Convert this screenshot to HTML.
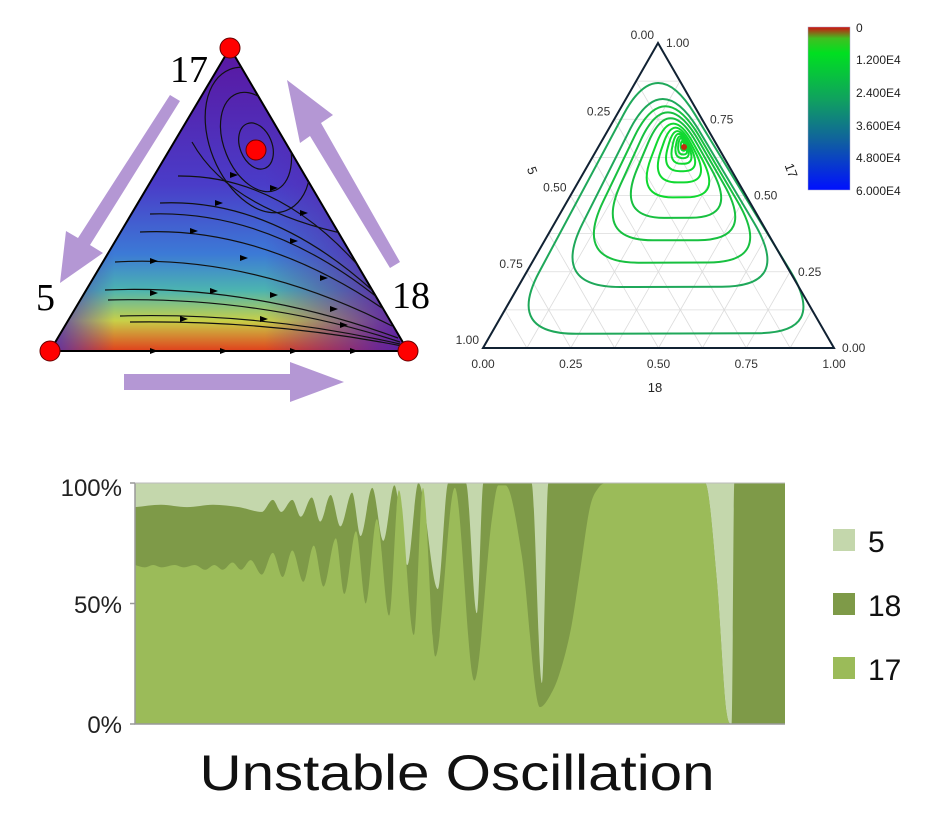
<!DOCTYPE html>
<html><head><meta charset="utf-8">
<style>
html,body{margin:0;padding:0;background:#fff;}
svg{display:block;font-family:"Liberation Sans",sans-serif;}
</style></head>
<body>
<svg id="root" width="952" height="819" viewBox="0 0 952 819" xmlns="http://www.w3.org/2000/svg">
<defs>
  <linearGradient id="triV" x1="0" y1="48" x2="0" y2="351" gradientUnits="userSpaceOnUse">
    <stop offset="0" stop-color="#5a16a0"/>
    <stop offset="0.45" stop-color="#4a3cc8"/>
    <stop offset="0.68" stop-color="#3c7ad6"/>
    <stop offset="0.8" stop-color="#4cb4b0"/>
    <stop offset="0.9" stop-color="#c8d048"/>
    <stop offset="1" stop-color="#e0401c"/>
  </linearGradient>
  <linearGradient id="triH" x1="50" y1="0" x2="408" y2="0" gradientUnits="userSpaceOnUse">
    <stop offset="0" stop-color="#4a30b8" stop-opacity="0.9"/>
    <stop offset="0.18" stop-color="#4a30b8" stop-opacity="0"/>
    <stop offset="0.6" stop-color="#5a20a8" stop-opacity="0"/>
    <stop offset="0.92" stop-color="#5a20a8" stop-opacity="0.85"/>
    <stop offset="1" stop-color="#5a20a8" stop-opacity="1"/>
  </linearGradient>
  <clipPath id="triClip"><polygon points="230,48 50,351 408,351"/></clipPath>
  <linearGradient id="cbar" x1="0" y1="0" x2="0" y2="1">
    <stop offset="0" stop-color="#d01010"/>
    <stop offset="0.07" stop-color="#40c020"/>
    <stop offset="0.16" stop-color="#00e020"/>
    <stop offset="0.45" stop-color="#10a060"/>
    <stop offset="0.7" stop-color="#1060a0"/>
    <stop offset="1" stop-color="#0010ff"/>
  </linearGradient>
</defs>

<!-- LEFT TRIANGLE -->
<g>
  <g clip-path="url(#triClip)">
    <rect x="40" y="40" width="380" height="320" fill="url(#triV)"/>
    <rect x="40" y="40" width="380" height="320" fill="url(#triH)"/>
  </g>
  <polygon points="230,48 50,351 408,351" fill="none" stroke="#000" stroke-width="2"/>
  <g fill="none" stroke="#111" stroke-width="1.2" clip-path="url(#triClip)">
    <path d="M105,290 Q250,284 398,338"/>
    <path d="M108,300 Q260,296 400,342"/>
    <path d="M115,262 Q250,254 392,326"/>
    <path d="M140,232 Q262,226 385,310"/>
    <path d="M150,214 Q268,210 378,298"/>
    <path d="M160,203 Q270,198 372,290"/>
    <path d="M178,176 Q280,175 362,270"/>
    <path d="M192,142 Q230,210 350,235"/>
    <ellipse cx="258" cy="140" rx="48" ry="76" transform="rotate(-22 258 140)"/>
    <ellipse cx="256" cy="142" rx="32" ry="52" transform="rotate(-22 256 142)"/>
    <ellipse cx="256" cy="146" rx="16" ry="24" transform="rotate(-22 256 146)"/>
    <path d="M120,316 Q260,312 400,344"/>
    <path d="M130,322 Q270,320 402,346"/>
  </g>
  <g fill="#000">
    <path d="M150,290 l8,3 l-8,3z"/><path d="M210,288 l8,3 l-8,3z"/><path d="M270,292 l8,3 l-8,3z"/><path d="M330,306 l8,3 l-8,3z"/>
    <path d="M150,258 l8,3 l-8,3z"/><path d="M240,255 l8,3 l-8,3z"/><path d="M320,275 l8,3 l-8,3z"/>
    <path d="M190,228 l8,3 l-8,3z"/><path d="M290,238 l8,3 l-8,3z"/>
    <path d="M215,200 l8,3 l-8,3z"/><path d="M300,210 l8,3 l-8,3z"/>
    <path d="M270,185 l8,3 l-8,3z"/><path d="M230,172 l8,3 l-8,3z"/>
    <path d="M180,316 l8,3 l-8,3z"/><path d="M260,316 l8,3 l-8,3z"/><path d="M340,322 l8,3 l-8,3z"/>
    <path d="M150,348 l8,3 l-8,3z"/><path d="M220,348 l8,3 l-8,3z"/><path d="M290,348 l8,3 l-8,3z"/><path d="M350,348 l8,3 l-8,3z"/>
  </g>
  <circle cx="230" cy="48" r="10" fill="#f00" stroke="#600" stroke-width="1"/>
  <circle cx="50" cy="351" r="10" fill="#f00" stroke="#600" stroke-width="1"/>
  <circle cx="408" cy="351" r="10" fill="#f00" stroke="#600" stroke-width="1"/>
  <circle cx="256" cy="150" r="10" fill="#f00" stroke="#600" stroke-width="1"/>
  <text x="170" y="82" font-family="Liberation Serif" font-size="38">17</text>
  <text x="36" y="310" font-family="Liberation Serif" font-size="38">5</text>
  <text x="392" y="308" font-family="Liberation Serif" font-size="38">18</text>
  <g fill="#b497d4">
    <polygon points="170,95 180,101 90,245 103,253 60,283 66,231 78,238"/>
    <polygon points="124,374 290,374 290,362 344,382 290,402 290,390 124,390"/>
    <polygon points="400,262 390,268 310,136 300,143 287,80 333,115 321,123"/>
  </g>
</g>

<!-- RIGHT TERNARY -->
<g id="tern"></g>
<g>
  <rect x="808" y="27" width="42" height="163" fill="url(#cbar)" stroke="#aac" stroke-width="0.5"/>
  <g font-size="12" fill="#222">
    <text x="856" y="32">0</text>
    <text x="856" y="64">1.200E4</text>
    <text x="856" y="97">2.400E4</text>
    <text x="856" y="130">3.600E4</text>
    <text x="856" y="162">4.800E4</text>
    <text x="856" y="195">6.000E4</text>
  </g>
</g>

<!-- STACKED AREA -->
<g id="area"></g>
<g font-size="24" fill="#222">
  <text x="122" y="496" text-anchor="end">100%</text>
  <text x="122" y="613" text-anchor="end">50%</text>
  <text x="122" y="733" text-anchor="end">0%</text>
</g>
<g>
  <rect x="833" y="529" width="22" height="22" fill="#c4d7ac"/>
  <text x="868" y="552" font-size="30" fill="#111">5</text>
  <rect x="833" y="593" width="22" height="22" fill="#7e9a48"/>
  <text x="868" y="616" font-size="30" fill="#111">18</text>
  <rect x="833" y="657" width="22" height="22" fill="#9bbb59"/>
  <text x="868" y="680" font-size="30" fill="#111">17</text>
</g>
<text x="457" y="790" font-size="50" text-anchor="middle" textLength="515" lengthAdjust="spacingAndGlyphs" fill="#111">Unstable Oscillation</text>
</svg>

<script>
// ---- stacked area data (time 0..100, shares 0..1) ----
const t17 = [0,1.5,2.8,4.1,6.1,7.5,9.2,10.8,12.2,13.5,15,16.3,17.8,19.5,21.2,22.7,24.2,25.9,27.5,29,30.9,32.2,34,35.5,37.2,39.1,40.6,42.9,44.3,46.2,49.2,52.2,54.9,55.9,57,59.5,62.3,63.9,65.2,67.1,68.5,70,71.3,72.6,73.9,74.8,76,87.7,89.5,91,91.8,100];
const share17 = [.66,.65,.66,.65,.66,.65,.66,.64,.66,.64,.67,.64,.68,.62,.71,.61,.72,.59,.74,.57,.77,.54,.80,.50,.85,.45,.97,.37,.98,.28,.98,.18,.85,.99,.99,.70,.07,.12,.20,.40,.64,.90,.98,1,1,1,1,1,.6,.05,0,0];
const tTop = [0,4,8,12,16,19.5,21.2,22.5,24.2,25.5,27.2,28.5,30.1,31.6,33.4,34.7,36.5,38.2,39.9,41.9,43.6,46.6,48.2,50.9,52.6,53.6,61,62.6,63.6,87.7,89.5,91,91.8,92.2,100];
const cum1718 = [.90,.91,.90,.91,.90,.88,.93,.88,.93,.86,.94,.84,.95,.82,.96,.78,.98,.76,.99,.66,1,.56,1,1,.46,1,1,.17,1,1,.6,.05,0,1,1];
const yTicks = [0,0.5,1];

const NS='http://www.w3.org/2000/svg';
const X0=135,X1=785,Y0=724,Y1=483;
function ax(t){return X0+(X1-X0)*t/100;}
function ay(v){return Y0-(Y0-Y1)*v;}
const area=document.getElementById('area');
function mk(tag,attrs){const e=document.createElementNS(NS,tag);for(const k in attrs)e.setAttribute(k,attrs[k]);return e;}

const bg=mk('rect',{x:X0,y:Y1,width:X1-X0,height:Y0-Y1,fill:'#c4d7ac'});


area.appendChild(bg);

function monoPath(xs,ys){
  const n=xs.length,d=[],m=[];
  for(let i=0;i<n-1;i++)d.push((ys[i+1]-ys[i])/(xs[i+1]-xs[i]));
  for(let i=0;i<n;i++){
    if(i===0)m.push(d[0]);else if(i===n-1)m.push(d[n-2]);
    else m.push(d[i-1]*d[i]<=0?0:(d[i-1]+d[i])/2);
  }
  for(let i=0;i<n-1;i++){
    if(d[i]===0){m[i]=0;m[i+1]=0;continue;}
    const a=m[i]/d[i],b=m[i+1]/d[i],s=a*a+b*b;
    if(s>9){const tau=3/Math.sqrt(s);m[i]=tau*a*d[i];m[i+1]=tau*b*d[i];}
  }
  let p='';
  for(let i=0;i<n-1;i++){
    const h=(xs[i+1]-xs[i])/3;
    p+=' C'+(xs[i]+h).toFixed(2)+','+(ys[i]+m[i]*h).toFixed(2)+' '+(xs[i+1]-h).toFixed(2)+','+(ys[i+1]-m[i+1]*h).toFixed(2)+' '+xs[i+1].toFixed(2)+','+ys[i+1].toFixed(2);
  }
  return p;
}
function areaPath(ts,vs){
  const xs=ts.map(ax),ys=vs.map(ay);
  return 'M'+xs[0]+','+ay(0)+' L'+xs[0]+','+ys[0]+monoPath(xs,ys)+' L'+xs[xs.length-1]+','+ay(0)+' Z';
}
const p18=mk('path',{d:areaPath(tTop,cum1718),fill:'#7e9a48'});


area.appendChild(p18);
const p17=mk('path',{d:areaPath(t17,share17),fill:'#9bbb59'});


area.appendChild(p17);

const cover=mk('rect',{x:X0,y:Y1-20,width:X1-X0,height:20,fill:'#fff'});


area.appendChild(cover);
const axl=mk('path',{d:'M'+X0+','+Y1+' V'+Y0+' H'+X1,fill:'none',stroke:'#999','stroke-width':1.5});


area.appendChild(axl);
yTicks.forEach(v=>{const tk=mk('line',{x1:X0-5,x2:X0,y1:ay(v),y2:ay(v),stroke:'#999','stroke-width':1.5});


area.appendChild(tk);});
const topl=mk('line',{x1:X0,x2:X1,y1:Y1,y2:Y1,stroke:'#bbb','stroke-width':1});


area.appendChild(topl);

// ---- ternary plot ----
const loopScale = [1,0.75,0.62,0.5,0.38,0.27,0.19,0.13,0.09,0.06,0.04,0.02];
const ternTicks = [0,0.25,0.5,0.75,1];
const tern=document.getElementById('tern');
const T=[658,43],L=[483,348],R=[834,348];
function tp(a,b,c){return [a*T[0]+b*L[0]+c*R[0],a*T[1]+b*L[1]+c*R[1]];}
for(let k=1;k<8;k++){const f=k/8;
  [[tp(f,1-f,0),tp(f,0,1-f)],[tp(0,f,1-f),tp(1-f,f,0)],[tp(1-f,0,f),tp(0,1-f,f)]].forEach(s=>{
    const g=mk('line',{x1:s[0][0],y1:s[0][1],x2:s[1][0],y2:s[1][1],stroke:'#dcdcdc','stroke-width':0.8});
    
    
    tern.appendChild(g);});}
const C=[684,147],VT=[657,52],VL=[506,334],VR=[828,333];
loopScale.forEach((s,i)=>{
  const st=Math.pow(s,0.6);
  const v=[[C[0]+(VT[0]-C[0])*st,C[1]+(VT[1]-C[1])*st],[C[0]+(VL[0]-C[0])*s,C[1]+(VL[1]-C[1])*s],[C[0]+(VR[0]-C[0])*s,C[1]+(VR[1]-C[1])*s]];
  const rc=0.22+0.28*(1-s);
  function lp(a,b,f){return [a[0]+(b[0]-a[0])*f,a[1]+(b[1]-a[1])*f];}
  let d='';
  for(let j=0;j<3;j++){
    const prev=v[(j+2)%3],cur=v[j],next=v[(j+1)%3];
    const a=lp(cur,prev,rc),b=lp(cur,next,rc);
    d+=(j===0?'M':' L')+a[0].toFixed(1)+','+a[1].toFixed(1)+' Q'+cur[0].toFixed(1)+','+cur[1].toFixed(1)+' '+b[0].toFixed(1)+','+b[1].toFixed(1);
  }
  const col=i<2?'#1fa85a':(i<5?'#18c040':'#10d830');
  const pth=mk('path',{d:d+' Z',fill:'none',stroke:col,'stroke-width':2,'stroke-linejoin':'round'});
  
  
  tern.appendChild(pth);});
const cdot=mk('circle',{cx:C[0],cy:C[1],r:3,fill:'#c03010'});


tern.appendChild(cdot);
const outline=mk('polygon',{points:[T,L,R].map(p=>p.join(',')).join(' '),fill:'none',stroke:'#123','stroke-width':2});


tern.appendChild(outline);
ternTicks.forEach(f=>{
  const lab=f.toFixed(2);
  let p=tp(0,1-f,f);
  let t=mk('text',{x:p[0],y:p[1]+20,'font-size':12,'text-anchor':'middle',fill:'#333'});t.textContent=lab;
  
  
  tern.appendChild(t);
  p=tp(f,0,1-f);
  t=mk('text',{x:p[0]+8,y:p[1]+4,'font-size':12,fill:'#333'});t.textContent=lab;
  
  
  tern.appendChild(t);
  p=tp(1-f,f,0);
  t=mk('text',{x:p[0]-4,y:p[1]-4,'font-size':12,'text-anchor':'end',fill:'#333'});t.textContent=lab;
  
  
  tern.appendChild(t);
});
[['18',655,392,0],['5',528,172,70],['17',787,172,70]].forEach(a=>{
  const t=mk('text',{x:a[1],y:a[2],'font-size':13,'text-anchor':'middle',fill:'#222',transform:'rotate('+a[3]+' '+a[1]+' '+a[2]+')'});
  t.textContent=a[0];
  
  
  tern.appendChild(t);});
</script>
</body></html>
